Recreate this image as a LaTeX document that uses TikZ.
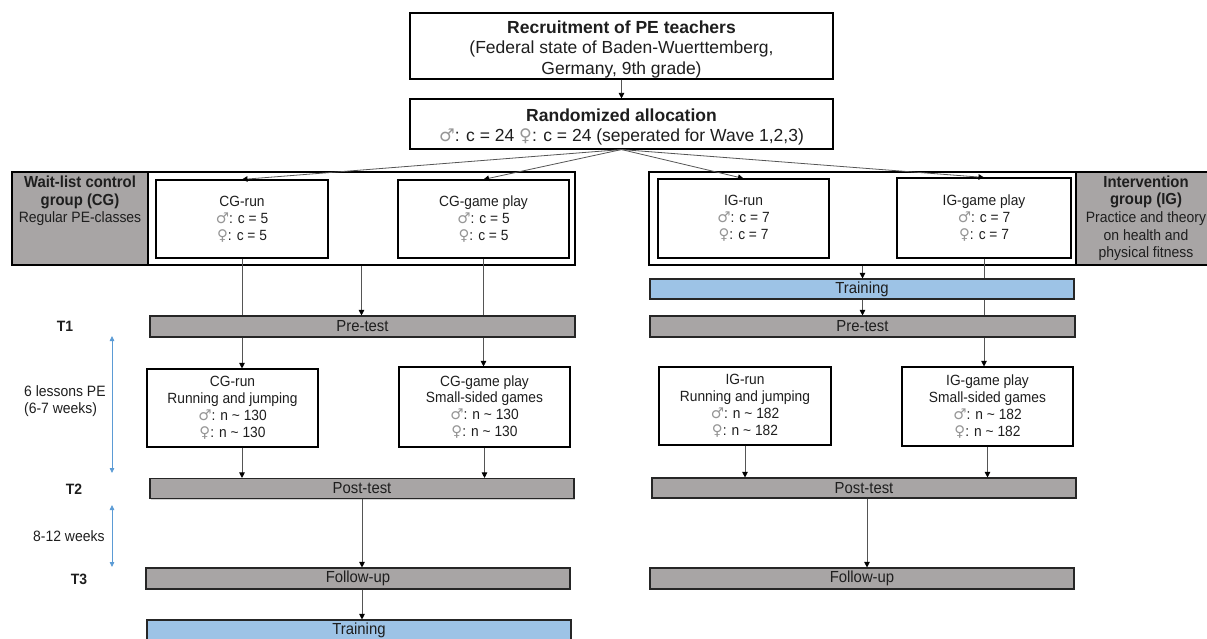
\documentclass[tikz,border=0pt]{standalone}
\usepackage{fontspec}
\setmainfont{Liberation Sans}
\newfontfamily\condfont{Liberation Sans}[FakeStretch=0.93]
\newfontfamily\symfont{DejaVu Sans}
\usetikzlibrary{arrows.meta,shadows}

\definecolor{barGray}{RGB}{168,165,165}
\definecolor{trainBlue}{RGB}{157,195,230}
\definecolor{arrowBlue}{RGB}{91,155,213}
\definecolor{lineGray}{RGB}{85,85,85}
\definecolor{symGray}{RGB}{150,150,150}
\definecolor{txt}{RGB}{30,30,30}

% sex symbols
\newcommand{\msym}{{\symfont\color{symGray}\char"2642}}
\newcommand{\fsym}{{\symfont\color{symGray}\char"2640}}
% font sizes
\newcommand{\ftop}{\fontsize{17.5pt}{20.5pt}\selectfont}
\newcommand{\flab}{\condfont\fontsize{15pt}{17.6pt}\selectfont}
\newcommand{\fbar}{\condfont\fontsize{16pt}{18pt}\selectfont}
\newcommand{\fsmall}{\condfont\fontsize{14.8pt}{16.9pt}\selectfont}
\newcommand{\lbold}[1]{{\condfont\fontsize{16pt}{17.6pt}\selectfont\bfseries #1}}

\tikzset{
  box/.style={draw=black, line width=1.1pt, fill=white, inner sep=0pt,
    align=center, text=txt},
  grp/.style={draw=black, line width=1.1pt, fill=white, inner sep=0pt},
  glabel/.style={draw=black, line width=1.1pt, fill=barGray, inner sep=0pt},
  labtext/.style={anchor=north, align=center, inner sep=0pt, text=txt, font=\flab},
  bar/.style={draw=black!85, line width=1.1pt, fill=barGray, inner sep=0pt,
    text=txt, font=\fbar,
    drop shadow={shadow xshift=1.4pt, shadow yshift=-1.4pt, opacity=0.35}},
  tbar/.style={bar, fill=trainBlue},
  conn/.style={draw=lineGray, line width=0.8pt},
  arr/.style={conn, -{Triangle[width=5.5pt,length=5.5pt,color=black]}},
  span/.style={draw=arrowBlue, line width=0.8pt,
    {Triangle[width=4.5pt,length=5pt]}-{Triangle[width=4.5pt,length=5pt]}},
  tlabel/.style={font=\condfont\fontsize{15pt}{17pt}\selectfont\bfseries, text=txt},
  side/.style={anchor=west, align=left, inner sep=0pt, text=txt,
    font=\condfont\fontsize{15pt}{17pt}\selectfont},
}

\begin{document}
\begin{tikzpicture}[x=1pt,y=-1pt]
\useasboundingbox (0,0) rectangle (1207,639);

% recruitment and allocation
\node[box, minimum width=423pt, minimum height=66pt] (rec) at (621.5,46) {};
\node[align=center, text=txt, font=\ftop, inner sep=0pt] (rectxt) at (621.5,49)
  {\textbf{Recruitment of PE teachers}\\(Federal state of Baden-Wuerttemberg,\\Germany, 9th grade)};
\node[box, minimum width=423pt, minimum height=50pt] (rand) at (621.5,124) {};
\node[align=center, text=txt, font=\ftop, inner sep=0pt] (randtxt) at (621.5,127)
  {\textbf{Randomized allocation}\\\msym: c = 24 \fsym: c = 24 (seperated for Wave 1,2,3)};

% group containers
\node[grp, minimum width=427pt, minimum height=93pt] (cggrp) at (361.5,218.5) {};
\node[glabel, minimum width=136pt, minimum height=93pt] (cglab) at (80,218.5) {};
\node[labtext] (cglabtxt) at (80,176)
  {\lbold{Wait-list control}\\\lbold{group (CG)}\\Regular PE-classes};
\node[grp, minimum width=427pt, minimum height=93pt] (iggrp) at (862.5,218.5) {};
\node[glabel, minimum width=140pt, minimum height=93pt] (iglab) at (1146,218.5) {};
\node[labtext] (iglabtxt) at (1146,175.5)
  {\lbold{Intervention}\\\lbold{group (IG)}\\Practice and theory\\on health and\\physical fitness};

% allocated groups
\node[box, font=\fsmall, minimum width=172pt, minimum height=78pt] (cgrun) at (242,219)
  {CG-run\\\msym: c = 5\\\fsym: c = 5};
\node[box, font=\fsmall, minimum width=171pt, minimum height=78pt] (cggame) at (483.5,219)
  {CG-game play\\\msym: c = 5\\\fsym: c = 5};
\node[box, font=\fsmall, minimum width=171pt, minimum height=79pt] (igrun) at (743.5,218.5)
  {IG-run\\\msym: c = 7\\\fsym: c = 7};
\node[box, font=\fsmall, minimum width=174pt, minimum height=80pt] (iggame) at (984,218)
  {IG-game play\\\msym: c = 7\\\fsym: c = 7};

% teacher training and pre-test
\node[tbar, minimum width=424pt, minimum height=20pt] (igtrain) at (862,289) {Training};
\node[bar, minimum width=425pt, minimum height=21pt] (cgpre) at (362.5,326.5) {Pre-test};
\node[bar, minimum width=425pt, minimum height=21pt] (igpre) at (862.5,326.5) {Pre-test};

% lesson units
\node[box, font=\fsmall, minimum width=171pt, minimum height=78pt] (cgrund) at (232.5,408)
  {CG-run\\Running and jumping\\\msym: n \textasciitilde{} 130\\\fsym: n \textasciitilde{} 130};
\node[box, font=\fsmall, minimum width=171pt, minimum height=80pt] (cggamed) at (484.5,407)
  {CG-game play\\Small-sided games\\\msym: n \textasciitilde{} 130\\\fsym: n \textasciitilde{} 130};
\node[box, font=\fsmall, minimum width=172pt, minimum height=78pt] (igrund) at (745,406)
  {IG-run\\Running and jumping\\\msym: n \textasciitilde{} 182\\\fsym: n \textasciitilde{} 182};
\node[box, font=\fsmall, minimum width=171pt, minimum height=79pt] (iggamed) at (987.5,406.5)
  {IG-game play\\Small-sided games\\\msym: n \textasciitilde{} 182\\\fsym: n \textasciitilde{} 182};

% post-test, follow-up, training
\node[bar, minimum width=424pt, minimum height=20pt] (cgpost) at (362,488.5) {Post-test};
\node[bar, minimum width=424pt, minimum height=20pt] (igpost) at (864,488) {Post-test};
\node[bar, minimum width=424pt, minimum height=21pt] (cgfol) at (358,578.5) {Follow-up};
\node[bar, minimum width=424pt, minimum height=21pt] (igfol) at (862,578.5) {Follow-up};
\node[tbar, minimum width=424pt, minimum height=21pt] (cgtrain) at (359,630.5) {Training};

% time line
\node[tlabel] (t1) at (65,326) {T1};
\node[tlabel] (t2) at (74,489) {T2};
\node[tlabel] (t3) at (79,579) {T3};
\node[side] (lessons) at (24,401.5) {6 lessons PE\\(6-7 weeks)};
\node[side] (weeks) at (33,536) {8-12 weeks};
\coordinate (s1a) at (112,336);
\coordinate (s1b) at (112,473);
\coordinate (s2a) at (112,505);
\coordinate (s2b) at (112,567);
\draw[span] (s1a) -- (s1b);
\draw[span] (s2a) -- (s2b);

% connectors
\draw[arr] (rec) -- (rand);
\draw[arr] (rand.south) -- (cgrun.north);
\draw[arr] (rand.south) -- (cggame.north);
\draw[arr] (rand.south) -- (igrun.north);
\draw[arr] (rand.south) -- (iggame.north);

\draw[arr] (cggrp.south) -- (cggrp.south |- cgpre.north);
\draw[conn] (cgrun.south) -- (cgrun.south |- cgpre.north);
\draw[arr] (cgrun.south |- cgpre.south) -- (cgrun.south |- cgrund.north);
\draw[conn] (cggame.south) -- (cggame.south |- cgpre.north);
\draw[arr] (cggame.south |- cgpre.south) -- (cggame.south |- cggamed.north);
\draw[arr] (cgrun.south |- cgrund.south) -- (cgrun.south |- cgpost.north);
\draw[arr] (cggamed.south) -- (cggamed.south |- cgpost.north);
\draw[arr] (cgpost.south) -- (cgpost.south |- cgfol.north);
\draw[arr] (cgpost.south |- cgfol.south) -- (cgpost.south |- cgtrain.north);

\draw[arr] (iggrp.south) -- (iggrp.south |- igtrain.north);
\draw[arr] (iggrp.south |- igtrain.south) -- (iggrp.south |- igpre.north);
\draw[conn] (iggame.south) -- (iggame.south |- igtrain.north);
\draw[conn] (iggame.south |- igtrain.south) -- (iggame.south |- igpre.north);
\draw[arr] (iggame.south |- igpre.south) -- (iggame.south |- iggamed.north);
\draw[arr] (igrund.south) -- (igrund.south |- igpost.north);
\draw[arr] (iggamed.south) -- (iggamed.south |- igpost.north);
\draw[arr] ([xshift=3pt]igpost.south) -- ([xshift=3pt]igpost.south |- igfol.north);
\end{tikzpicture}
\end{document}
